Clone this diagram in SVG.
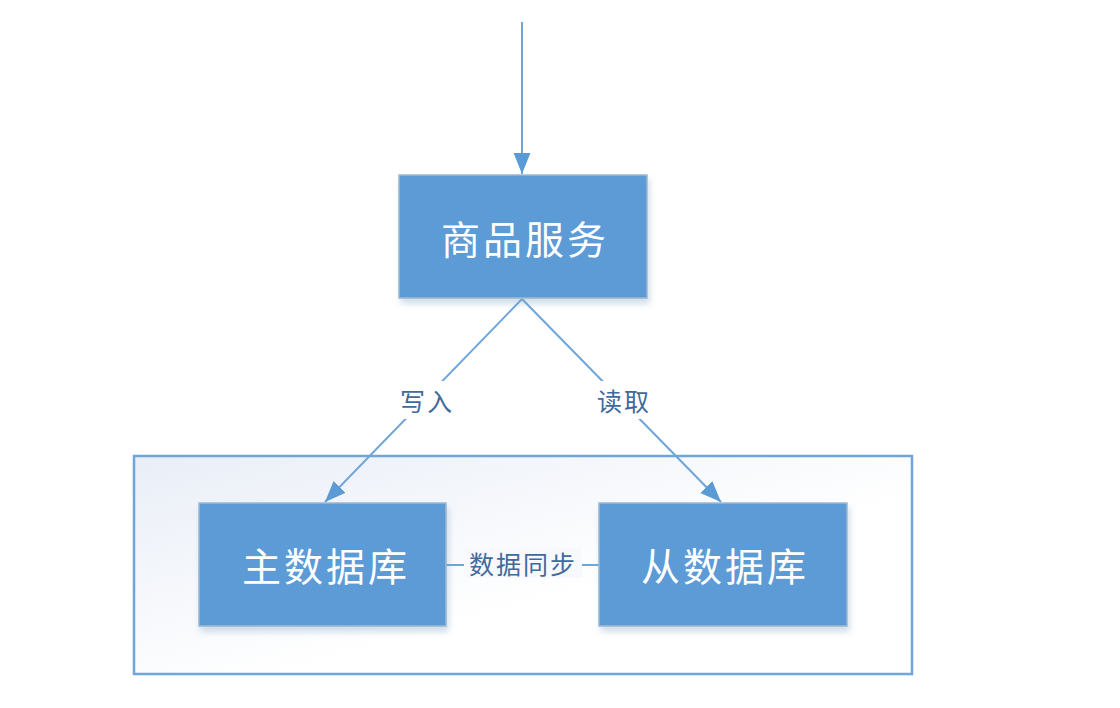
<svg xmlns="http://www.w3.org/2000/svg" width="1120" height="708" viewBox="0 0 1120 708">
<style>
.box{fill:#5b9bd5;stroke:#9fb8cf;stroke-width:1.5}
.btxt{fill:#ffffff;font-family:"Noto Sans CJK SC","Noto Sans",sans-serif;font-size:39px;letter-spacing:3px;text-anchor:middle;dominant-baseline:central}
.lbl{fill:#3f6a9c;font-family:"Noto Sans CJK SC","Noto Sans",sans-serif;font-size:25px;letter-spacing:2px;text-anchor:middle;dominant-baseline:central}
.conn{stroke:#6fa5d8;stroke-width:2;fill:none}
</style>
<defs>
<linearGradient id="cg" x1="0" y1="0" x2="1" y2="1">
<stop offset="0" stop-color="#e9eef7"/>
<stop offset="0.6" stop-color="#ffffff"/>
</linearGradient>
<marker id="ah" viewBox="0 0 20 16" refX="20" refY="8" markerWidth="21" markerHeight="18" markerUnits="userSpaceOnUse" orient="auto">
<path d="M0,0 L20,8 L0,16 Z" fill="#5b9bd5"/>
</marker>
<filter id="sh" x="-10%" y="-10%" width="130%" height="140%">
<feDropShadow dx="2" dy="5" stdDeviation="3" flood-color="#7a9cc0" flood-opacity="0.35"/>
</filter>
</defs>
<rect id="container" x="134" y="456" width="778" height="218" fill="url(#cg)" stroke="#6fa5d8" stroke-width="2.5"/>
<g id="connectors">
<line class="conn" x1="522" y1="22" x2="522" y2="174" marker-end="url(#ah)"/>
<line class="conn" x1="522" y1="299" x2="325" y2="502" marker-end="url(#ah)"/>
<line class="conn" x1="522" y1="299" x2="721" y2="502" marker-end="url(#ah)"/>
<line class="conn" x1="446" y1="565" x2="599" y2="565" stroke="#a9c8e8" stroke-width="3"/>
<rect x="396" y="381" width="62" height="38" fill="#ffffff"/>
<rect x="593" y="381" width="62" height="38" fill="#ffffff"/>
<text class="lbl" x="427" y="400">写入</text>
<text class="lbl" x="624" y="400">读取</text>
<rect x="464" y="548" width="118" height="30" fill="#f8f9fc"/>
<text class="lbl" x="523" y="563">数据同步</text>
</g>
<g id="service">
<rect class="box" x="399" y="175" width="248" height="123" filter="url(#sh)"/>
<text class="btxt" x="525" y="237">商品服务</text>
</g>
<g id="master">
<rect class="box" x="199" y="503" width="247" height="123" filter="url(#sh)"/>
<text class="btxt" x="326" y="564">主数据库</text>
</g>
<g id="slave">
<rect class="box" x="599" y="503" width="248" height="123" filter="url(#sh)"/>
<text class="btxt" x="725" y="564">从数据库</text>
</g>
</svg>
